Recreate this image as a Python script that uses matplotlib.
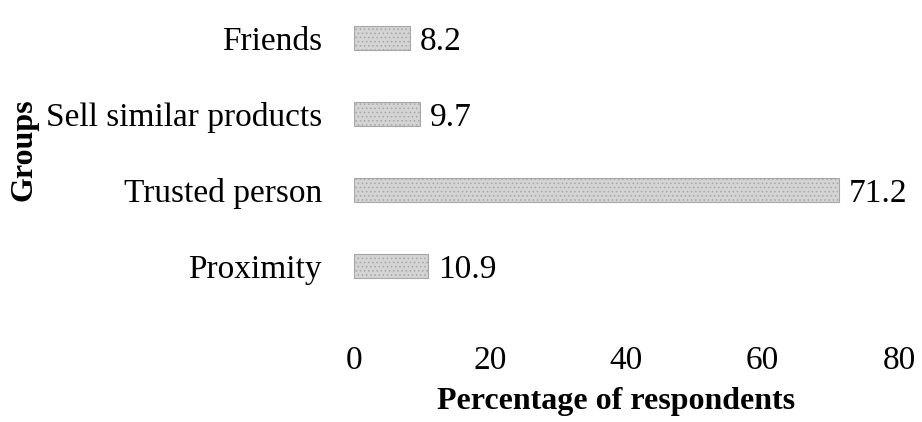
import matplotlib.pyplot as plt

# data
groups = ["Proximity", "Trusted person", "Sell similar products", "Friends"]
percent = [10.9, 71.2, 9.7, 8.2]
x_ticks = [0, 20, 40, 60, 80]

plt.rcParams['font.family'] = ['Liberation Serif', 'DejaVu Serif']
plt.rcParams['hatch.linewidth'] = 0.6

fig = plt.figure(figsize=(9.22, 4.22), dpi=100)
ax = fig.add_axes([0.384, 0.280, 0.591, 0.720])

pos = list(range(len(groups)))
bars = ax.barh(pos, percent, height=0.32, color='#d4d4d4',
               edgecolor='#a6a6a6', linewidth=0.8, hatch='....')

for b, v in zip(bars, percent):
    ax.text(b.get_width() + 1.5, b.get_y() + b.get_height() / 2, f"{v}",
            va='center_baseline', ha='left', fontsize=24)

ax.set_xlim(0, 80)
ax.set_ylim(-0.5, 3.5)
ax.set_xticks(x_ticks)
ax.set_yticks(pos)
ax.set_yticklabels(groups)
ax.tick_params(axis='both', length=0, labelsize=24)
ax.tick_params(axis='x', pad=30)
ax.tick_params(axis='y', pad=23)
for s in ax.spines.values():
    s.set_visible(False)

ax.set_xlabel("Percentage of respondents", fontsize=23, fontweight='bold')
ax.xaxis.set_label_coords(0.481, -0.275)
fig.text(0.026, 0.645, "Groups", rotation=90, fontsize=23, fontweight='bold',
         ha='center', va='center')

plt.savefig("out.png", dpi=100)
